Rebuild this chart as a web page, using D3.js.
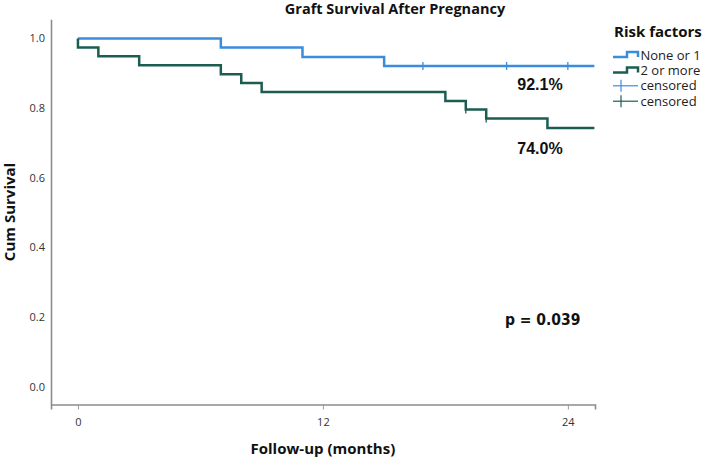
<!DOCTYPE html>
<html>
<head>
<meta charset="utf-8">
<script src="https://cdn.jsdelivr.net/npm/d3@7"></script>
<style>
  body { margin: 0; background: #fff; }
  svg { display: block; }
</style>
</head>
<body>
<svg id="chart" width="702" height="461"></svg>
<script>
// data
const groups = ["None or 1", "2 or more"]
const groupColors = ["#3b8ddb", "#1c5d52"]
const noneEventTimes = [7, 11, 15]
const noneSurvival = [0.974, 0.947, 0.921]
const noneCensored = [16.9, 21, 24]
const moreEventTimes = [0, 1, 3, 7, 8, 9, 18, 19, 20, 23]
const moreSurvival = [0.974, 0.949, 0.923, 0.897, 0.872, 0.846, 0.820, 0.796, 0.770, 0.743]
const moreCensored = [19, 20]
const followEnd = 25.3
const xTicks = [0, 12, 24]
const yTicks = [0, 0.2, 0.4, 0.6, 0.8, 1.0]
const finalLabels = ["92.1%", "74.0%"]
const pValue = "p = 0.039"

const svg = d3.select('#chart')

//scales
const x = d3.scaleLinear().domain([-1.32, 25.33]).range([51, 595])
const y = d3.scaleLinear().domain([-0.0517, 1.055]).range([404.5, 19.3])

// x axis
const xAxis = svg.append("g")
  .attr("transform", "translate(0,404.5)")
  .call(d3.axisBottom(x).tickValues(xTicks).tickSizeOuter(0).tickSize(5).tickPadding(9))
xAxis.select(".domain").attr("stroke", "#8c8c8c").attr("stroke-width", 1.6)
xAxis.selectAll(".tick line").attr("stroke", "#9a9a9a")
xAxis.selectAll("text").style("font", "11px 'Open Sans'").attr("fill", "#333")

// y axis
const yAxis = svg.append("g")
  .attr("transform", "translate(51,0)")
  .call(d3.axisLeft(y).tickValues(yTicks).tickFormat(d3.format(".1f")).tickSize(0).tickSizeOuter(0).tickPadding(6))
yAxis.select(".domain").attr("stroke", "#8c8c8c").attr("stroke-width", 1.6)
yAxis.selectAll("text").style("font", "11px 'Open Sans'").attr("fill", "#333")

// step curves
function stepPoints(times, surv) {
  const pts = [[0, 1]]
  times.forEach((t, i) => pts.push([t, surv[i]]))
  pts.push([followEnd, surv[surv.length - 1]])
  return pts
}
function survAt(times, surv, t) {
  let s = 1
  times.forEach((et, i) => { if (et <= t) s = surv[i] })
  return s
}

const series = [
  {times: noneEventTimes, surv: noneSurvival, cens: noneCensored},
  {times: moreEventTimes, surv: moreSurvival, cens: moreCensored}
]

const line = d3.line().x(d => x(d[0])).y(d => y(d[1])).curve(d3.curveStepAfter)

series.forEach((s, i) => {
  svg.append("path")
    .attr("d", line(stepPoints(s.times, s.surv)))
    .attr("fill", "none")
    .attr("stroke", groupColors[i])
    .attr("stroke-width", 2.5)

  svg.append("g").selectAll("line")
    .data(s.cens)
    .join("line")
      .attr("x1", d => x(d)).attr("x2", d => x(d))
      .attr("y1", d => y(survAt(s.times, s.surv, d)) - 4)
      .attr("y2", d => y(survAt(s.times, s.surv, d)) + 4)
      .attr("stroke", groupColors[i])
      .attr("stroke-width", 1.3)
})

// title and axis labels
svg.append("text")
  .attr("x", 395).attr("y", 14)
  .attr("text-anchor", "middle")
  .text("Graft Survival After Pregnancy")
  .style("font", "bold 14.5px 'Open Sans'").attr("fill", "#111")

svg.append("text")
  .attr("transform", "rotate(-90)")
  .attr("x", -212).attr("y", 15)
  .attr("text-anchor", "middle")
  .text("Cum Survival")
  .style("font", "bold 15px 'Open Sans'").attr("fill", "#111")

svg.append("text")
  .attr("x", x(12)).attr("y", 454)
  .attr("text-anchor", "middle")
  .text("Follow-up (months)")
  .style("font", "bold 15px 'Open Sans'").attr("fill", "#111")

// annotations
svg.append("text").attr("x", 540).attr("y", 90).attr("text-anchor", "middle")
  .text(finalLabels[0]).style("font", "bold 16px 'Liberation Sans'").attr("fill", "#111")
svg.append("text").attr("x", 540).attr("y", 154).attr("text-anchor", "middle")
  .text(finalLabels[1]).style("font", "bold 16px 'Liberation Sans'").attr("fill", "#111")
svg.append("text").attr("x", 505).attr("y", 325)
  .text(pValue).style("font", "bold 15.5px 'DejaVu Sans Condensed'").style("font-stretch", "condensed").attr("fill", "#111")

// legend
const lg = svg.append("g")
lg.append("text").attr("x", 614).attr("y", 37).text("Risk factors")
  .style("font", "bold 15px 'Open Sans'").attr("fill", "#111")

const legendItems = [
  {label: groups[0], color: groupColors[0], kind: "step"},
  {label: groups[1], color: groupColors[1], kind: "step"},
  {label: "censored", color: groupColors[0], kind: "cens"},
  {label: "censored", color: groupColors[1], kind: "cens"}
]
legendItems.forEach((d, i) => {
  const cy = 55 + i * 15.4
  if (d.kind == "step") {
    lg.append("path")
      .attr("d", `M613,${cy + 2}H627V${cy - 3}H638V${cy + 2}`)
      .attr("fill", "none").attr("stroke", d.color).attr("stroke-width", 2.5)
  } else {
    lg.append("line").attr("x1", 613).attr("x2", 638).attr("y1", cy).attr("y2", cy)
      .attr("stroke", d.color).attr("stroke-width", 1.2)
    lg.append("line").attr("x1", 621).attr("x2", 621).attr("y1", cy - 6).attr("y2", cy + 6)
      .attr("stroke", d.color).attr("stroke-width", 1.2)
  }
  lg.append("text").attr("x", 640.5).attr("y", cy + 4.5).text(d.label)
    .style("font", "13px 'Open Sans'").attr("fill", "#222")
})
</script>
</body>
</html>
